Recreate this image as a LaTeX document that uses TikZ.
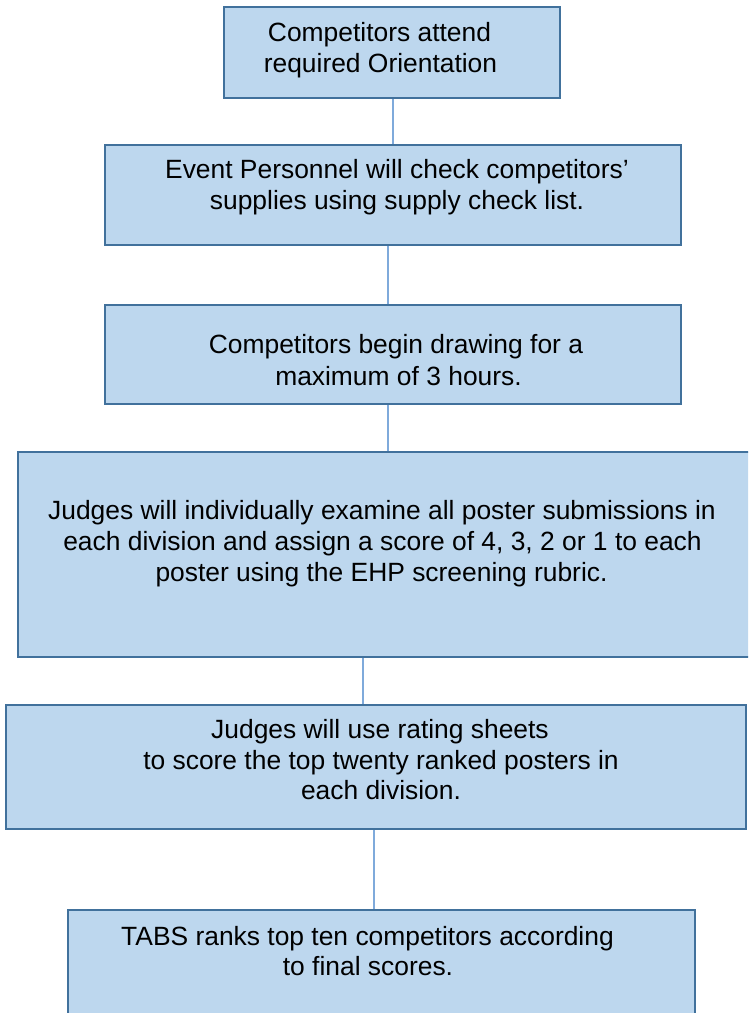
\documentclass[tikz,border=0pt]{standalone}
\usepackage{fontspec}
\setmainfont{Liberation Sans}
\definecolor{boxfill}{HTML}{BDD7EE}
\definecolor{boxline}{HTML}{41719C}
\definecolor{conn}{HTML}{7FAADB}
\begin{document}
\begin{tikzpicture}[x=1pt,y=-1pt,
  stepbox/.style={draw=boxline,fill=boxfill,line width=2pt,inner sep=0pt},
  txt/.style={anchor=base,inner sep=0pt,font=\fontsize{26.4}{30}\selectfont},
  link/.style={draw=conn,line width=1.2pt}]
\useasboundingbox (0,0) rectangle (748,1013);
\clip (0,0) rectangle (748,1013);
% boxes
\node[stepbox,minimum width=336pt,minimum height=91pt] (b1) at (392,52.5) {};
\node[stepbox,minimum width=576pt,minimum height=100pt] (b2) at (392.5,195) {};
\node[stepbox,minimum width=576pt,minimum height=99pt] (b3) at (392.5,354.5) {};
\node[stepbox,minimum width=736pt,minimum height=205pt] (b4) at (386,554.5) {};
\node[stepbox,minimum width=740pt,minimum height=124pt] (b5) at (376,767) {};
\node[stepbox,minimum width=627pt,minimum height=112pt] (b6) at (381.5,966) {};
% connector x positions
\coordinate (c12) at (393,0);
\coordinate (c23) at (388,0);
\coordinate (c34) at (388,0);
\coordinate (c45) at (363,0);
\coordinate (c56) at (374,0);
\draw[link] (b1.south -| c12) -- (b2.north -| c12);
\draw[link] (b2.south -| c23) -- (b3.north -| c23);
\draw[link] (b3.south -| c34) -- (b4.north -| c34);
\draw[link] (b4.south -| c45) -- (b5.north -| c45);
\draw[link] (b5.south -| c56) -- (b6.north -| c56);
% texts
\node[txt] (t1a) at (379.5,41) {Competitors attend};
\node[txt] (t1b) at (380.5,72) {required Orientation};
\node[txt] (t2a) at (397,178) {Event Personnel will check competitors’};
\node[txt] (t2b) at (397,209) {supplies using supply check list.};
\node[txt] (t3a) at (396,353) {Competitors begin drawing for a};
\node[txt] (t3b) at (398.5,385) {maximum of 3 hours.};
\node[txt] (t4a) at (382,519) {Judges will individually examine all poster submissions in};
\node[txt] (t4b) at (382.5,550) {each division and assign a score of 4, 3, 2 or 1 to each};
\node[txt] (t4c) at (381.5,581) {poster using the EHP screening rubric.};
\node[txt] (t5a) at (380,738) {Judges will use rating sheets};
\node[txt] (t5b) at (381,769) {to score the top twenty ranked posters in};
\node[txt] (t5c) at (381,799) {each division.};
\node[txt] (t6a) at (367.5,945) {TABS ranks top ten competitors according};
\node[txt] (t6b) at (368,975) {to final scores.};
\end{tikzpicture}
\end{document}
